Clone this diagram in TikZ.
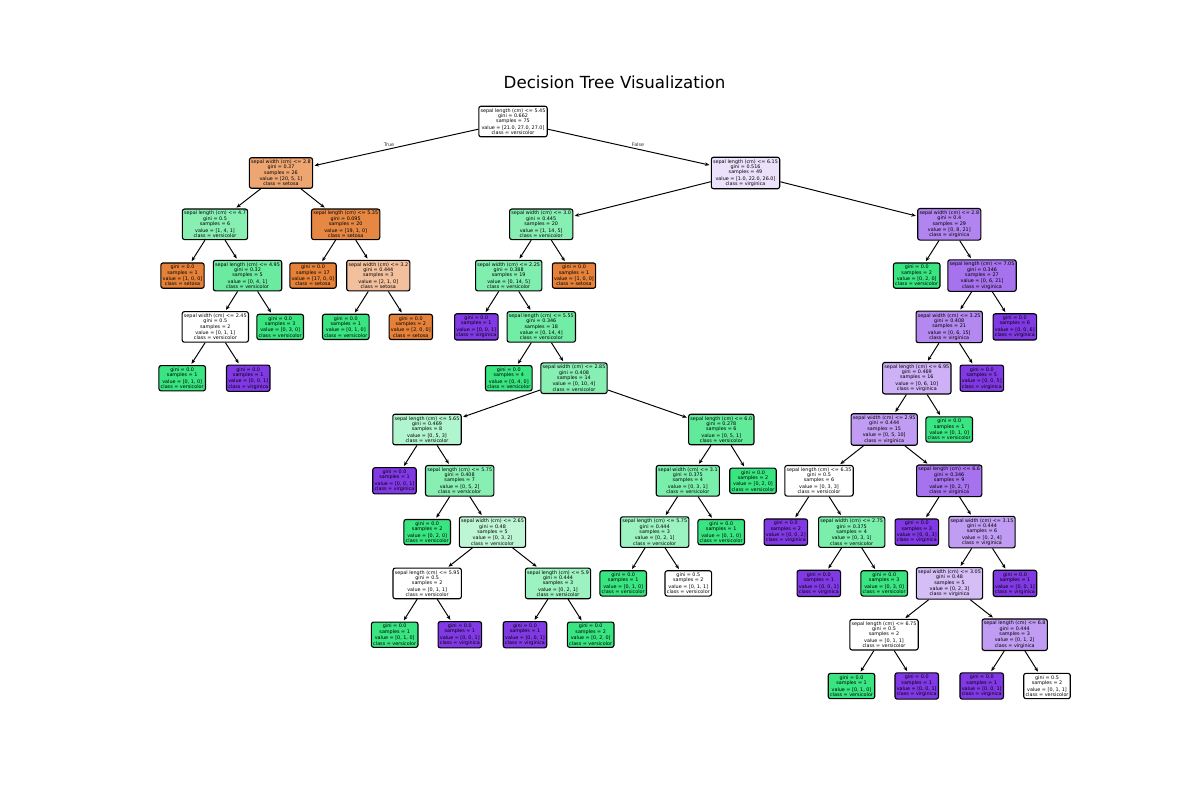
\documentclass[tikz,border=0pt]{standalone}
\usepackage{fontspec}
\setmainfont{DejaVu Sans}
\usetikzlibrary{arrows.meta}
\definecolor{so}{RGB}{229,129,57}
\definecolor{ve}{RGB}{57,229,129}
\definecolor{vi}{RGB}{129,57,229}
\newcommand\vxx{0.9pt}
\newcommand\ST[5]{#1\\gini = #2\\samples = #3\\[\vxx]value = [#4]\\class = #5}
\newcommand\LF[4]{gini = #1\\samples = #2\\[\vxx]value = [#3]\\class = #4}
\tikzset{
  tn/.style={draw=black, line width=0.8pt, rounded corners=1.6pt, align=center,
    font=\fontsize{3.5}{3.8}\selectfont, inner xsep=1.3pt, inner ysep=1.6pt, text=black},
  edge/.style={-{Stealth[length=3.2pt,width=2.6pt]}, line width=0.7pt, shorten >=1pt},
  lab/.style={font=\fontsize{3.5}{4}\selectfont, text=black!80}
}
\begin{document}
\begin{tikzpicture}[x=0.72pt,y=-0.72pt]
\useasboundingbox[fill=white] (0,0) rectangle (1200,800);
\node[anchor=base, font=\fontsize{12}{14}\selectfont] (title) at (614.5,88) {Decision Tree Visualization};
% level 0-2
\node[tn, fill=white] (r) at (513,121.5) {\ST{sepal length (cm) <= 5.45}{0.662}{75}{21.0, 27.0, 27.0}{versicolor}};
\node[tn, fill=so!71!white] (L) at (281,173) {\ST{sepal width (cm) <= 2.8}{0.37}{26}{20, 5, 1}{setosa}};
\node[tn, fill=vi!15!white] (R) at (745.5,173) {\ST{sepal length (cm) <= 6.15}{0.516}{49}{1.0, 22.0, 26.0}{virginica}};
\node[tn, fill=ve!60!white] (LL) at (215,224.3) {\ST{sepal length (cm) <= 4.7}{0.5}{6}{1, 4, 1}{versicolor}};
\node[tn, fill=so!95!white] (LR) at (345.7,224.3) {\ST{sepal length (cm) <= 5.35}{0.095}{20}{19, 1, 0}{setosa}};
\node[tn, fill=ve!60!white] (RL) at (541.2,224.3) {\ST{sepal width (cm) <= 3.0}{0.445}{20}{1, 14, 5}{versicolor}};
\node[tn, fill=vi!62!white] (RR) at (949.3,224.3) {\ST{sepal width (cm) <= 2.8}{0.4}{29}{0, 8, 21}{virginica}};
% level 3
\node[tn, fill=so] (LLL) at (182.5,275.6) {\LF{0.0}{1}{1, 0, 0}{setosa}};
\node[tn, fill=ve!75!white] (LLR) at (247.5,275.6) {\ST{sepal length (cm) <= 4.95}{0.32}{5}{0, 4, 1}{versicolor}};
\node[tn, fill=so] (LRL) at (313,275.6) {\LF{0.0}{17}{17, 0, 0}{setosa}};
\node[tn, fill=so!50!white] (LRR) at (378.3,275.6) {\ST{sepal width (cm) <= 3.2}{0.444}{3}{2, 1, 0}{setosa}};
\node[tn, fill=ve!64!white] (RLL) at (508.7,275.6) {\ST{sepal width (cm) <= 2.25}{0.388}{19}{0, 14, 5}{versicolor}};
\node[tn, fill=so] (RLR) at (574,275.6) {\LF{0.0}{1}{1, 0, 0}{setosa}};
\node[tn, fill=ve] (RRL) at (916.7,275.6) {\LF{0.0}{2}{0, 2, 0}{versicolor}};
\node[tn, fill=vi!71!white] (RRR) at (982,275.6) {\ST{sepal length (cm) <= 7.05}{0.346}{27}{0, 6, 21}{virginica}};
% level 4
\node[tn, fill=white] (LLRL) at (215.3,326.9) {\ST{sepal width (cm) <= 2.45}{0.5}{2}{0, 1, 1}{versicolor}};
\node[tn, fill=ve] (LLRR) at (280.2,326.9) {\LF{0.0}{3}{0, 3, 0}{versicolor}};
\node[tn, fill=ve] (LRRL) at (345.8,326.9) {\LF{0.0}{1}{0, 1, 0}{versicolor}};
\node[tn, fill=so] (LRRR) at (410.8,326.9) {\LF{0.0}{2}{2, 0, 0}{setosa}};
\node[tn, fill=vi] (RLLL) at (476.3,326.9) {\LF{0.0}{1}{0, 0, 1}{virginica}};
\node[tn, fill=ve!71!white] (RLLR) at (541.3,326.9) {\ST{sepal length (cm) <= 5.55}{0.346}{18}{0, 14, 4}{versicolor}};
\node[tn, fill=vi!60!white] (RRRL) at (949.2,326.9) {\ST{sepal width (cm) <= 3.25}{0.408}{21}{0, 6, 15}{virginica}};
\node[tn, fill=vi] (RRRR) at (1014.8,326.9) {\LF{0.0}{6}{0, 0, 6}{virginica}};
% level 5
\node[tn, fill=ve] (LLRLL) at (182.2,378.2) {\LF{0.0}{1}{0, 1, 0}{versicolor}};
\node[tn, fill=vi] (LLRLR) at (248.2,378.2) {\LF{0.0}{1}{0, 0, 1}{virginica}};
\node[tn, fill=ve] (RLLRL) at (508.8,378.2) {\LF{0.0}{4}{0, 4, 0}{versicolor}};
\node[tn, fill=ve!60!white] (A) at (574,378.2) {\ST{sepal width (cm) <= 2.85}{0.408}{14}{0, 10, 4}{versicolor}};
\node[tn, fill=vi!40!white] (B) at (916.8,378.2) {\ST{sepal length (cm) <= 6.95}{0.469}{16}{0, 6, 10}{virginica}};
\node[tn, fill=vi] (RRRLR) at (981.8,378.2) {\LF{0.0}{5}{0, 0, 5}{virginica}};
% level 6
\node[tn, fill=ve!40!white] (a1) at (427,429.5) {\ST{sepal length (cm) <= 5.65}{0.469}{8}{0, 5, 3}{versicolor}};
\node[tn, fill=ve!80!white] (a2) at (721.3,429.5) {\ST{sepal length (cm) <= 6.0}{0.278}{6}{0, 5, 1}{versicolor}};
\node[tn, fill=vi!50!white] (b1) at (884.2,429.5) {\ST{sepal width (cm) <= 2.95}{0.444}{15}{0, 5, 10}{virginica}};
\node[tn, fill=ve] (b2) at (949.2,429.5) {\LF{0.0}{1}{0, 1, 0}{versicolor}};
% level 7
\node[tn, fill=vi] (a11) at (394.5,480.8) {\LF{0.0}{1}{0, 0, 1}{virginica}};
\node[tn, fill=ve!60!white] (a12) at (459.7,480.8) {\ST{sepal length (cm) <= 5.75}{0.408}{7}{0, 5, 2}{versicolor}};
\node[tn, fill=ve!67!white] (a21) at (687.8,480.8) {\ST{sepal width (cm) <= 3.1}{0.375}{4}{0, 3, 1}{versicolor}};
\node[tn, fill=ve] (a22) at (753,480.8) {\LF{0.0}{2}{0, 2, 0}{versicolor}};
\node[tn, fill=white] (b11) at (819,480.8) {\ST{sepal length (cm) <= 6.35}{0.5}{6}{0, 3, 3}{versicolor}};
\node[tn, fill=vi!71!white] (b12) at (949.2,480.8) {\ST{sepal length (cm) <= 6.6}{0.346}{9}{0, 2, 7}{virginica}};
% level 8
\node[tn, fill=ve] (a121) at (427.2,532.1) {\LF{0.0}{2}{0, 2, 0}{versicolor}};
\node[tn, fill=ve!33!white] (a122) at (492.5,532.1) {\ST{sepal width (cm) <= 2.65}{0.48}{5}{0, 3, 2}{versicolor}};
\node[tn, fill=ve!50!white] (a211) at (654.7,532.1) {\ST{sepal length (cm) <= 5.75}{0.444}{3}{0, 2, 1}{versicolor}};
\node[tn, fill=ve] (a212) at (721.2,532.1) {\LF{0.0}{1}{0, 1, 0}{versicolor}};
\node[tn, fill=vi] (b111) at (785.8,532.1) {\LF{0.0}{2}{0, 0, 2}{virginica}};
\node[tn, fill=ve!67!white] (b112) at (851.7,532.1) {\ST{sepal width (cm) <= 2.75}{0.375}{4}{0, 3, 1}{versicolor}};
\node[tn, fill=vi] (b121) at (916.8,532.1) {\LF{0.0}{3}{0, 0, 3}{virginica}};
\node[tn, fill=vi!50!white] (b122) at (982,532.1) {\ST{sepal width (cm) <= 3.15}{0.444}{6}{0, 2, 4}{virginica}};
% level 9
\node[tn, fill=white] (a1221) at (427.2,583.4) {\ST{sepal length (cm) <= 5.95}{0.5}{2}{0, 1, 1}{versicolor}};
\node[tn, fill=ve!50!white] (a1222) at (558,583.4) {\ST{sepal length (cm) <= 5.9}{0.444}{3}{0, 2, 1}{versicolor}};
\node[tn, fill=ve] (a2111) at (623.2,583.4) {\LF{0.0}{1}{0, 1, 0}{versicolor}};
\node[tn, fill=white] (a2112) at (688.3,583.4) {\LF{0.5}{2}{0, 1, 1}{versicolor}};
\node[tn, fill=vi] (b1121) at (818.8,583.4) {\LF{0.0}{1}{0, 0, 1}{virginica}};
\node[tn, fill=ve] (b1122) at (884.2,583.4) {\LF{0.0}{3}{0, 3, 0}{versicolor}};
\node[tn, fill=vi!33!white] (b1221) at (949.5,583.4) {\ST{sepal width (cm) <= 3.05}{0.48}{5}{0, 2, 3}{virginica}};
\node[tn, fill=vi] (b1222) at (1015,583.4) {\LF{0.0}{1}{0, 0, 1}{virginica}};
% level 10
\node[tn, fill=ve] (a12211) at (394.7,634.7) {\LF{0.0}{1}{0, 1, 0}{versicolor}};
\node[tn, fill=vi] (a12212) at (459.8,634.7) {\LF{0.0}{1}{0, 0, 1}{virginica}};
\node[tn, fill=vi] (a12221) at (525,634.7) {\LF{0.0}{1}{0, 0, 1}{virginica}};
\node[tn, fill=ve] (a12222) at (590.7,634.7) {\LF{0.0}{2}{0, 2, 0}{versicolor}};
\node[tn, fill=white] (b12211) at (884,634.7) {\ST{sepal length (cm) <= 6.75}{0.5}{2}{0, 1, 1}{versicolor}};
\node[tn, fill=vi!50!white] (b12212) at (1014.7,634.7) {\ST{sepal length (cm) <= 6.8}{0.444}{3}{0, 1, 2}{virginica}};
% level 11
\node[tn, fill=ve] (c1) at (851.5,686) {\LF{0.0}{1}{0, 1, 0}{versicolor}};
\node[tn, fill=vi] (c2) at (916.7,686) {\LF{0.0}{1}{0, 0, 1}{virginica}};
\node[tn, fill=vi] (c3) at (981.7,686) {\LF{0.0}{1}{0, 0, 1}{virginica}};
\node[tn, fill=white] (c4) at (1047,686) {\LF{0.5}{2}{0, 1, 1}{versicolor}};
% edge labels
\node[lab] (ltrue) at (389,145) {True};
\node[lab] (lfalse) at (638,145) {False};
% edges
\foreach \p/\c in {r/L, r/R, L/LL, L/LR, R/RL, R/RR,
  LL/LLL, LL/LLR, LR/LRL, LR/LRR, RL/RLL, RL/RLR, RR/RRL, RR/RRR,
  LLR/LLRL, LLR/LLRR, LRR/LRRL, LRR/LRRR, RLL/RLLL, RLL/RLLR, RRR/RRRL, RRR/RRRR,
  LLRL/LLRLL, LLRL/LLRLR, RLLR/RLLRL, RLLR/A, RRRL/B, RRRL/RRRLR,
  A/a1, A/a2, B/b1, B/b2,
  a1/a11, a1/a12, a2/a21, a2/a22, b1/b11, b1/b12,
  a12/a121, a12/a122, a21/a211, a21/a212, b11/b111, b11/b112, b12/b121, b12/b122,
  a122/a1221, a122/a1222, a211/a2111, a211/a2112, b112/b1121, b112/b1122, b122/b1221, b122/b1222,
  a1221/a12211, a1221/a12212, a1222/a12221, a1222/a12222, b1221/b12211, b1221/b12212,
  b12211/c1, b12211/c2, b12212/c3, b12212/c4}
  {\draw[edge] (\p) -- (\c);}
\end{tikzpicture}
\end{document}
